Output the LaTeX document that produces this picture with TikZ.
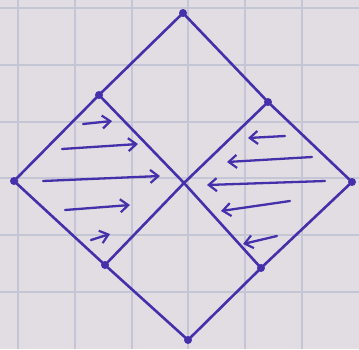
\documentclass[tikz,border=0pt]{standalone}
\usetikzlibrary{arrows.meta}
\definecolor{ink}{RGB}{68,48,170}
\definecolor{paper}{RGB}{226,221,226}
\definecolor{gridc}{RGB}{196,198,214}
\tikzset{
  edge/.style={ink, line width=2.6pt, line cap=round, line join=round},
  flow/.style={ink, line width=2.3pt, line cap=round, -{Straight Barb[length=8pt,width=13pt,line width=2.2pt]}},
  dot/.style={circle, fill=ink, inner sep=0pt, minimum size=8pt},
}
\begin{document}
\begin{tikzpicture}[x=1pt,y=-1pt]
\fill[paper] (0,0) rectangle (359,349);
\useasboundingbox (0,0) rectangle (359,349);
% grid of the paper
\foreach \gx in {18,75,132,188,245,302} \draw[gridc, line width=1.4pt] (\gx,0) -- (\gx,349);
\foreach \gy in {8,65,122,178,235,292} \draw[gridc, line width=1.4pt] (0,\gy) -- (359,\gy);
% vertices
\node[dot] (T) at (183,13) {};
\node[dot] (L) at (14,181) {};
\node[dot] (B) at (188,340) {};
\node[dot] (R) at (352,182) {};
\node[dot] (UL) at (99,95) {};
\node[dot] (UR) at (268,102) {};
\node[dot] (LL) at (105,265) {};
\node[dot] (LR) at (261,268) {};
\coordinate (C) at (184,183);
% outline
\draw[edge] (T.center) -- (UR.center) -- (R.center) -- (LR.center) -- (B.center) -- (LL.center) -- (L.center) -- (UL.center) -- cycle;
\draw[edge] (UL.center) -- (C) -- (LR.center);
\draw[edge] (UR.center) -- (C) -- (LL.center);
% arrows, left panel
\coordinate (a1s) at (83,124); \coordinate (a1e) at (112,121);
\coordinate (a2s) at (62,149); \coordinate (a2e) at (138,144);
\coordinate (a3s) at (43,181); \coordinate (a3e) at (160,176);
\coordinate (a4s) at (65,210); \coordinate (a4e) at (130,205);
\coordinate (a5s) at (91,240); \coordinate (a5e) at (110,234);
\foreach \i in {1,...,5} \draw[flow] (a\i s) -- (a\i e);
% arrows, right panel
\coordinate (b1s) at (285,136); \coordinate (b1e) at (248,138);
\coordinate (b2s) at (312,157); \coordinate (b2e) at (227,162);
\coordinate (b3s) at (325,181); \coordinate (b3e) at (207,185);
\coordinate (b4s) at (290,201); \coordinate (b4e) at (221,211);
\coordinate (b5s) at (277,236); \coordinate (b5e) at (243,244);
\foreach \i in {1,...,5} \draw[flow] (b\i s) -- (b\i e);
\end{tikzpicture}
\end{document}
